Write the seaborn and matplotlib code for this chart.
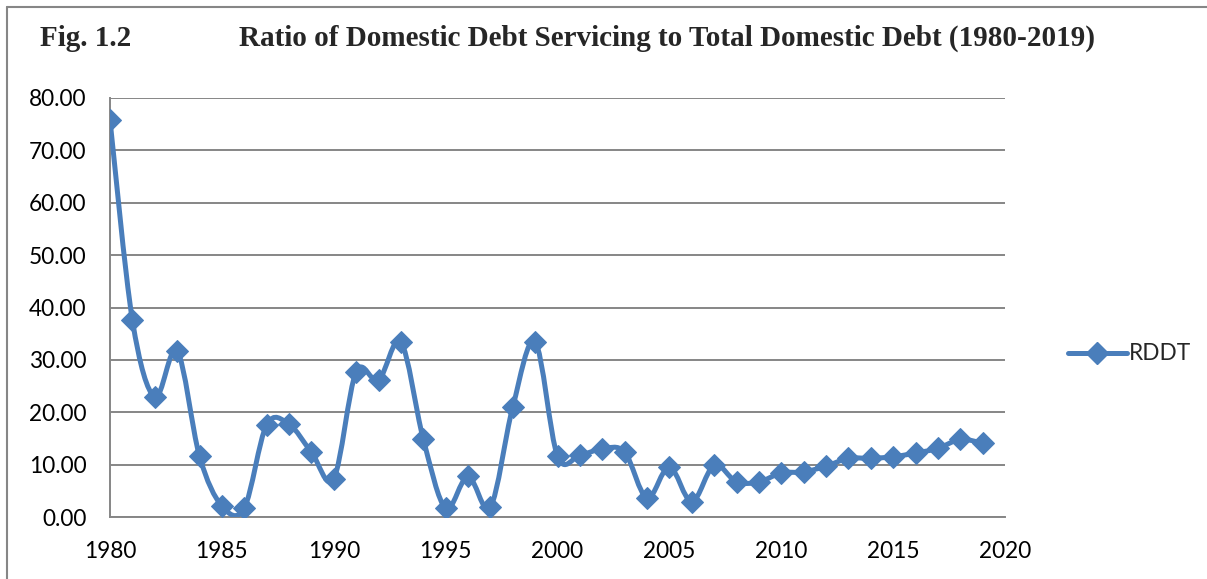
import numpy as np
import pandas as pd
import matplotlib
matplotlib.use("Agg")
import matplotlib.pyplot as plt
from matplotlib.path import Path
from matplotlib.patches import PathPatch
from matplotlib.lines import Line2D
import seaborn as sns

years = list(range(1980, 2020))
rddt = [75.8, 37.6, 22.9, 31.7, 11.6, 2.1, 1.7, 17.6, 17.7, 12.4,
        7.3, 27.7, 26.1, 33.4, 14.9, 1.7, 7.8, 1.9, 21.0, 33.4,
        11.6, 11.8, 13.0, 12.4, 3.6, 9.6, 2.9, 9.9, 6.7, 6.7,
        8.4, 8.6, 9.7, 11.2, 11.2, 11.5, 12.2, 13.1, 14.8, 14.1]
x_ticks = [1980, 1985, 1990, 1995, 2000, 2005, 2010, 2015, 2020]
y_ticks = [0, 10, 20, 30, 40, 50, 60, 70, 80]

df = pd.DataFrame({"year": years, "RDDT": rddt})

sns.set_style("white")
plt.rcParams['font.family'] = ['Lato', 'DejaVu Sans']

blue = "#4A7EBB"
grey = "#868686"
fs = 16.3

fig = plt.figure(figsize=(12.07, 5.79), dpi=100)
ax = fig.add_axes([110 / 1207, 1 - 517 / 579, (1005 - 110) / 1207, (517 - 98) / 579])


def smooth_path(xs, ys):
    # excel-style smoothed line: cubic bezier between neighbouring points
    pts = np.column_stack([xs, ys]).astype(float)
    verts = [pts[0]]
    codes = [Path.MOVETO]
    n = len(pts)
    for i in range(n - 1):
        p0 = pts[i - 1] if i > 0 else pts[i]
        p1 = pts[i]
        p2 = pts[i + 1]
        p3 = pts[i + 2] if i + 2 < n else pts[i + 1]
        verts += [p1 + (p2 - p0) / 6, p2 - (p3 - p1) / 6, p2]
        codes += [Path.CURVE4] * 3
    return Path(verts, codes)


ax.add_patch(PathPatch(smooth_path(df["year"], df["RDDT"]), facecolor="none",
                       edgecolor=blue, lw=3.6, capstyle="round", joinstyle="round", zorder=3))
sns.lineplot(data=df, x="year", y="RDDT", ax=ax, linestyle="none", marker="D",
             markersize=11, color=blue, markeredgecolor=blue, zorder=4)

ax.set_xlim(1980, 2020)
ax.set_ylim(0, 80)
ax.set_xticks(x_ticks)
ax.set_yticks(y_ticks)
ax.set_yticklabels([f"{v:.2f}" for v in y_ticks])
ax.set_xlabel("")
ax.set_ylabel("")
ax.grid(axis="y", color=grey, lw=1.4)
ax.set_axisbelow(True)
for s in ["top", "right"]:
    ax.spines[s].set_visible(False)
for s in ["left", "bottom"]:
    ax.spines[s].set_color(grey)
    ax.spines[s].set_linewidth(1.4)
ax.tick_params(axis="both", which="major", direction="out", length=5, width=1.4,
               color=grey, labelsize=fs, labelcolor="black")
ax.tick_params(axis="y", pad=12)
ax.tick_params(axis="x", pad=12)

handle = Line2D([], [], color=blue, lw=3.6, marker="D", markersize=11,
                solid_capstyle="round")
fig.legend([handle], ["RDDT"], loc="center left", bbox_to_anchor=(1068 / 1207, 1 - 354 / 579),
           frameon=False, fontsize=fs, handlelength=2.6, handletextpad=0.1, borderaxespad=0,
           borderpad=0)

fig.text(40 / 1207, 1 - 38 / 579, "Fig. 1.2", family="Liberation Serif", weight="bold",
         fontsize=21, va="center", ha="left")
fig.text(667 / 1207, 1 - 38 / 579, "Ratio of Domestic Debt Servicing to Total Domestic Debt (1980-2019)",
         family="Liberation Serif", weight="bold", fontsize=21, va="center", ha="center")

fig.add_artist(Line2D([7 / 1207, 7 / 1207], [0, 1 - 7 / 579], color=grey, lw=1.5,
                      transform=fig.transFigure))
fig.add_artist(Line2D([7 / 1207, 1], [1 - 7 / 579, 1 - 7 / 579], color=grey, lw=1.5,
                      transform=fig.transFigure))

fig.savefig("out.png", dpi=100)
